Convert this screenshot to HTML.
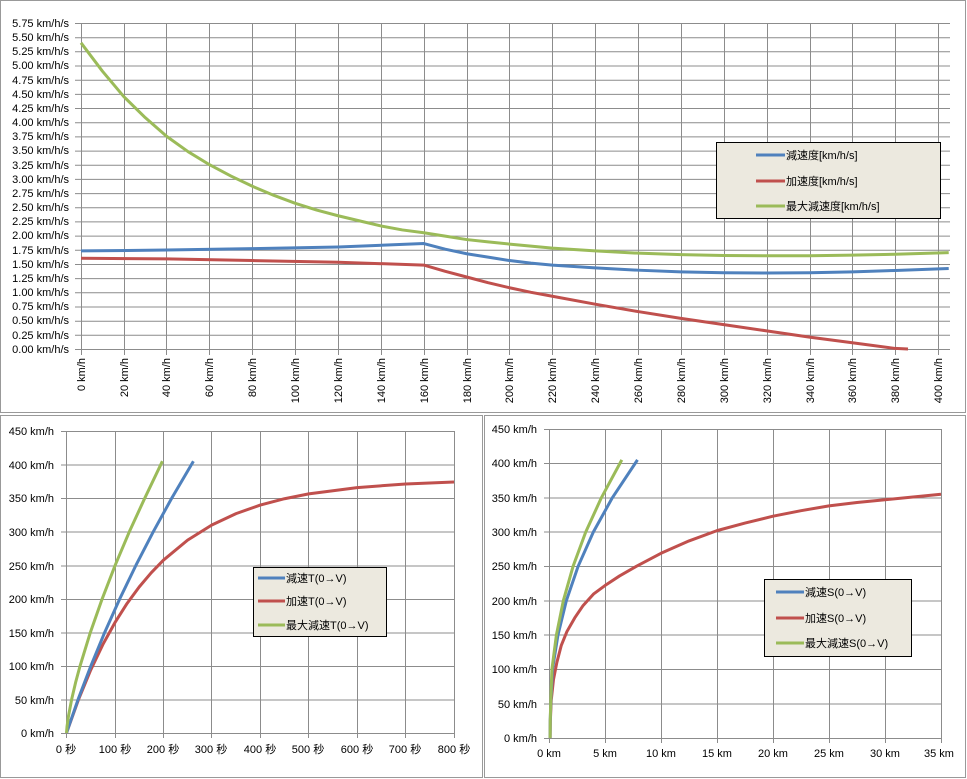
<!DOCTYPE html>
<html><head><meta charset="utf-8"><style>
body{margin:0;background:#fff;}
svg{display:block;font-family:"Liberation Sans","Noto Sans CJK JP",sans-serif;font-size:11px;}
</style></head><body>
<svg width="967" height="779" xmlns="http://www.w3.org/2000/svg">
<rect x="0" y="0" width="967" height="779" fill="#fff"/>
<rect x="0.5" y="0.5" width="965" height="412" fill="none" stroke="#999"/>
<rect x="0.5" y="415.5" width="482" height="362" fill="none" stroke="#999"/>
<rect x="484.5" y="415.5" width="481" height="362" fill="none" stroke="#999"/>

<!-- TOP CHART -->
<g stroke="#8c8c8c" stroke-width="1">
<path d="M81 23.5H950M81 37.7H950M81 51.8H950M81 66H950M81 80.2H950M81 94.4H950M81 108.5H950M81 122.7H950M81 136.9H950M81 151.1H950M81 165.2H950M81 179.4H950M81 193.6H950M81 207.8H950M81 221.9H950M81 236.1H950M81 250.3H950M81 264.5H950M81 278.6H950M81 292.8H950M81 307H950M81 321.2H950M81 335.3H950M75 349.5H950"/>
<path d="M81.5 23V355M124.5 23V355M166.5 23V355M209.5 23V355M252.5 23V355M295.5 23V355M338.5 23V355M381.5 23V355M424.5 23V355M467.5 23V355M509.5 23V355M552.5 23V355M595.5 23V355M638.5 23V355M681.5 23V355M724.5 23V355M767.5 23V355M810.5 23V355M852.5 23V355M895.5 23V355M938.5 23V355"/>
<path d="M75 23.5H81M75 37.7H81M75 51.8H81M75 66H81M75 80.2H81M75 94.4H81M75 108.5H81M75 122.7H81M75 136.9H81M75 151.1H81M75 165.2H81M75 179.4H81M75 193.6H81M75 207.8H81M75 221.9H81M75 236.1H81M75 250.3H81M75 264.5H81M75 278.6H81M75 292.8H81M75 307H81M75 321.2H81M75 335.3H81"/>
</g>
<g text-anchor="end" fill="#000">
<text x="69" y="27">5.75 km/h/s</text><text x="69" y="41">5.50 km/h/s</text><text x="69" y="55">5.25 km/h/s</text><text x="69" y="69">5.00 km/h/s</text><text x="69" y="84">4.75 km/h/s</text><text x="69" y="98">4.50 km/h/s</text><text x="69" y="112">4.25 km/h/s</text><text x="69" y="126">4.00 km/h/s</text><text x="69" y="140">3.75 km/h/s</text><text x="69" y="154">3.50 km/h/s</text><text x="69" y="169">3.25 km/h/s</text><text x="69" y="183">3.00 km/h/s</text><text x="69" y="197">2.75 km/h/s</text><text x="69" y="211">2.50 km/h/s</text><text x="69" y="225">2.25 km/h/s</text><text x="69" y="239">2.00 km/h/s</text><text x="69" y="254">1.75 km/h/s</text><text x="69" y="268">1.50 km/h/s</text><text x="69" y="282">1.25 km/h/s</text><text x="69" y="296">1.00 km/h/s</text><text x="69" y="310">0.75 km/h/s</text><text x="69" y="324">0.50 km/h/s</text><text x="69" y="339">0.25 km/h/s</text><text x="69" y="353">0.00 km/h/s</text>
</g>
<g text-anchor="end" fill="#000">
<text transform="translate(85,358) rotate(-90)">0 km/h</text>
<text transform="translate(128,358) rotate(-90)">20 km/h</text>
<text transform="translate(170,358) rotate(-90)">40 km/h</text>
<text transform="translate(213,358) rotate(-90)">60 km/h</text>
<text transform="translate(256,358) rotate(-90)">80 km/h</text>
<text transform="translate(299,358) rotate(-90)">100 km/h</text>
<text transform="translate(342,358) rotate(-90)">120 km/h</text>
<text transform="translate(385,358) rotate(-90)">140 km/h</text>
<text transform="translate(428,358) rotate(-90)">160 km/h</text>
<text transform="translate(471,358) rotate(-90)">180 km/h</text>
<text transform="translate(513,358) rotate(-90)">200 km/h</text>
<text transform="translate(556,358) rotate(-90)">220 km/h</text>
<text transform="translate(599,358) rotate(-90)">240 km/h</text>
<text transform="translate(642,358) rotate(-90)">260 km/h</text>
<text transform="translate(685,358) rotate(-90)">280 km/h</text>
<text transform="translate(728,358) rotate(-90)">300 km/h</text>
<text transform="translate(771,358) rotate(-90)">320 km/h</text>
<text transform="translate(814,358) rotate(-90)">340 km/h</text>
<text transform="translate(856,358) rotate(-90)">360 km/h</text>
<text transform="translate(899,358) rotate(-90)">380 km/h</text>
<text transform="translate(942,358) rotate(-90)">400 km/h</text>
</g>
<g transform="matrix(2.1425,0,0,-56.7,81,349)" fill="none" stroke-width="3" stroke-linejoin="round">
<polyline vector-effect="non-scaling-stroke" stroke="#9bbb59" points="0,5.4 10,4.9 20,4.45 30,4.08 40,3.75 50,3.48 60,3.25 70,3.05 80,2.87 90,2.71 100,2.57 110,2.45 120,2.35 130,2.26 140,2.17 150,2.1 160,2.05 170,1.99 180,1.93 190,1.89 200,1.85 220,1.78 240,1.73 260,1.69 280,1.665 300,1.65 320,1.645 340,1.645 360,1.655 380,1.67 405,1.70"/>
<polyline vector-effect="non-scaling-stroke" stroke="#4f81bd" points="0,1.73 40,1.745 80,1.77 120,1.8 160,1.86 170,1.76 180,1.68 190,1.62 200,1.56 210,1.515 220,1.48 240,1.43 260,1.39 280,1.36 300,1.345 320,1.34 340,1.345 360,1.36 380,1.385 405,1.42"/>
<polyline vector-effect="non-scaling-stroke" stroke="#c0504d" points="0,1.6 40,1.59 80,1.56 120,1.53 160,1.48 170,1.37 180,1.27 190,1.17 200,1.08 210,1.0 220,0.93 240,0.79 260,0.66 280,0.54 300,0.43 320,0.32 340,0.21 360,0.11 380,0.01 386,0"/>
</g>
<rect x="716.5" y="142.5" width="224" height="76" fill="#ece9df" stroke="#000"/>
<g stroke-width="3"><line x1="756" y1="155" x2="785" y2="155" stroke="#4f81bd"/><line x1="756" y1="181" x2="785" y2="181" stroke="#c0504d"/><line x1="756" y1="206" x2="785" y2="206" stroke="#9bbb59"/></g>
<g fill="#000"><text x="786" y="159">減速度[km/h/s]</text><text x="786" y="185">加速度[km/h/s]</text><text x="786" y="210">最大減速度[km/h/s]</text></g>

<!-- BOTTOM LEFT -->
<g stroke="#8c8c8c">
<path d="M66 431.5H454M66 465H454M66 498.5H454M66 532H454M66 566H454M66 599.5H454M66 633H454M66 666.5H454M66 700H454M61 733.5H454"/>
<path d="M66.5 431V738M115.5 431V738M163.5 431V738M211.5 431V738M260.5 431V738M308.5 431V738M357.5 431V738M405.5 431V738M454.5 431V738"/>
<path d="M61 431.5H66M61 465H66M61 498.5H66M61 532H66M61 566H66M61 599.5H66M61 633H66M61 666.5H66M61 700H66"/>
</g>
<g text-anchor="end" fill="#000">
<text x="54" y="435">450 km/h</text><text x="54" y="469">400 km/h</text><text x="54" y="502">350 km/h</text><text x="54" y="536">300 km/h</text><text x="54" y="570">250 km/h</text><text x="54" y="603">200 km/h</text><text x="54" y="637">150 km/h</text><text x="54" y="670">100 km/h</text><text x="54" y="704">50 km/h</text><text x="54" y="737">0 km/h</text>
</g>
<g text-anchor="middle" fill="#000">
<text x="66" y="753">0 秒</text><text x="115" y="753">100 秒</text><text x="163" y="753">200 秒</text><text x="211" y="753">300 秒</text><text x="260" y="753">400 秒</text><text x="308" y="753">500 秒</text><text x="357" y="753">600 秒</text><text x="405" y="753">700 秒</text><text x="454" y="753">800 秒</text>
</g>
<g transform="matrix(0.4844,0,0,-0.6711,66.5,733)" fill="none" stroke-width="3" stroke-linejoin="round">
<polyline vector-effect="non-scaling-stroke" stroke="#c0504d" points="0,0 25,50.3 50,93.9 75,131.8 100,164.5 125,193 150,217.6 175,238.9 200,257.5 250,287.4 300,309.9 350,326.9 400,339.6 450,349.1 500,356.3 600,365.7 700,371.1 800,374.1"/>
<polyline vector-effect="non-scaling-stroke" stroke="#4f81bd" points="0,0 23.9,50 50.3,100 78.9,150 110,200 143.4,250 179.2,300 217.3,350 262,405"/>
<polyline vector-effect="non-scaling-stroke" stroke="#9bbb59" points="0,0 1.13,10 4.05,25 10.6,50 18.7,75 28,100 49.3,150 73.7,200 100.5,250 129.8,300 161.6,350 198,405"/>
</g>
<rect x="253.5" y="567.5" width="133" height="69" fill="#ece9df" stroke="#000"/>
<g stroke-width="3"><line x1="258" y1="578" x2="285" y2="578" stroke="#4f81bd"/><line x1="258" y1="601" x2="285" y2="601" stroke="#c0504d"/><line x1="258" y1="625" x2="285" y2="625" stroke="#9bbb59"/></g>
<g fill="#000"><text x="286" y="582">減速T(0→V)</text><text x="286" y="605">加速T(0→V)</text><text x="286" y="629">最大減速T(0→V)</text></g>

<!-- BOTTOM RIGHT -->
<g stroke="#8c8c8c">
<path d="M549 429.5H941M549 463.5H941M549 498H941M549 532H941M549 566.5H941M549 601H941M549 635H941M549 669.5H941M549 704H941M544 738.5H941"/>
<path d="M549.5 429V743M605.5 429V743M661.5 429V743M717.5 429V743M773.5 429V743M829.5 429V743M885.5 429V743M941.5 429V743"/>
<path d="M544 429.5H549M544 463.5H549M544 498H549M544 532H549M544 566.5H549M544 601H549M544 635H549M544 669.5H549M544 704H549"/>
</g>
<g text-anchor="end" fill="#000">
<text x="537" y="433">450 km/h</text><text x="537" y="467">400 km/h</text><text x="537" y="502">350 km/h</text><text x="537" y="536">300 km/h</text><text x="537" y="570">250 km/h</text><text x="537" y="605">200 km/h</text><text x="537" y="639">150 km/h</text><text x="537" y="673">100 km/h</text><text x="537" y="708">50 km/h</text><text x="537" y="742">0 km/h</text>
</g>
<g text-anchor="middle" fill="#000">
<text x="549" y="757">0 km</text><text x="605" y="757">5 km</text><text x="661" y="757">10 km</text><text x="717" y="757">15 km</text><text x="773" y="757">20 km</text><text x="829" y="757">25 km</text><text x="885" y="757">30 km</text><text x="939" y="757">35 km</text>
</g>
<g transform="matrix(11.2,0,0,-0.6867,549,738)" fill="none" stroke-width="3" stroke-linejoin="round">
<polyline vector-effect="non-scaling-stroke" stroke="#c0504d" points="0.1,0 0.12,25 0.2,55 0.4,85 0.7,110 1.1,135 1.6,155 2.3,175 3.05,193 4,210 5,222 6.3,236 7.8,250 10,269 12.5,287 15,302 17.5,313 20,323 22.5,331 25,338 27.5,343 30,347 32.5,351 35,355"/>
<polyline vector-effect="non-scaling-stroke" stroke="#4f81bd" points="0.1,0 0.11,25 0.16,50 0.31,100 0.8,150 1.55,200 2.6,250 3.96,300 5.66,350 7.9,405"/>
<polyline vector-effect="non-scaling-stroke" stroke="#9bbb59" points="0.1,0 0.11,25 0.15,50 0.26,100 0.66,150 1.28,200 2.15,250 3.28,300 4.68,350 6.5,405"/>
</g>
<rect x="764.5" y="579.5" width="147" height="77" fill="#ece9df" stroke="#000"/>
<g stroke-width="3"><line x1="776" y1="592" x2="804" y2="592" stroke="#4f81bd"/><line x1="776" y1="618" x2="804" y2="618" stroke="#c0504d"/><line x1="776" y1="643" x2="804" y2="643" stroke="#9bbb59"/></g>
<g fill="#000"><text x="805" y="596">減速S(0→V)</text><text x="805" y="622">加速S(0→V)</text><text x="805" y="647">最大減速S(0→V)</text></g>
</svg>
</body></html>
